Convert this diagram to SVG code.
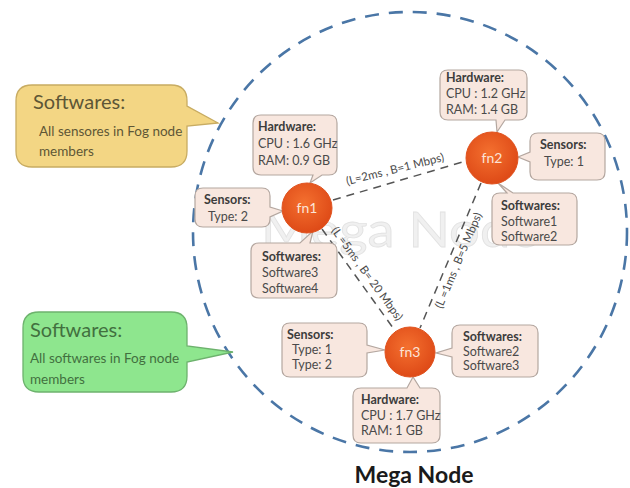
<svg xmlns="http://www.w3.org/2000/svg" width="630" height="488" viewBox="0 0 630 488">
<defs>
<radialGradient id="ng" cx="45%" cy="40%" r="60%">
<stop offset="0" stop-color="#F4702F"/>
<stop offset="1" stop-color="#DE4A17"/>
</radialGradient>
</defs>
<style>
text{font-family:Lato,"Open Sans","Liberation Sans",sans-serif}
.box{fill:#F8E7DF;stroke:#B4A7A0;stroke-width:1.2}
.bt{font-size:12.5px;fill:#4a4a4a}
.bh{font-size:12.5px;fill:#3c3c3c;font-weight:bold}
.node{fill:url(#ng);stroke:#E0521E;stroke-width:1}
.nt{font-size:14px;fill:#FCE3D6;text-anchor:middle}
.edge{stroke:#555;stroke-width:1.5;stroke-dasharray:8 6;fill:none}
.el{font-size:11.5px;fill:#4a4a4a;text-anchor:middle}
.mega{fill:none;stroke:#4A76A6;stroke-width:2.6;stroke-dasharray:14 10}
</style>
<rect width="630" height="488" fill="#fff"/>
<text x="400" y="247" font-size="48" fill="#F0F0F0" stroke="#E2E2E2" stroke-width="0.8" textLength="278" lengthAdjust="spacingAndGlyphs" text-anchor="middle">Mega Node</text>
<ellipse class="mega" cx="410" cy="232" rx="217" ry="220"/>
<g id="callout-sensors">
<path d="M32,85 H171 Q187,85 187,101 V106 L218,123 L187,126 V151 Q187,167 171,167 H32 Q16,167 16,151 V101 Q16,85 32,85 Z" fill="#F3D684" stroke="#C8AC62" stroke-width="1.3"/>
<text x="33" y="109" font-size="20" fill="#5E5636">Softwares:</text>
<text x="39" y="136" font-size="13.5" fill="#5E5636">All sensores in Fog node</text>
<text x="39" y="156" font-size="13.5" fill="#5E5636">members</text>
</g>
<g id="callout-softwares">
<path d="M39,312 H171 Q187,312 187,328 V346 L233,352 L187,362 V376 Q187,392 171,392 H39 Q23,392 23,376 V328 Q23,312 39,312 Z" fill="#8EE68E" stroke="#6DB26D" stroke-width="1.3"/>
<text x="30" y="337" font-size="20" fill="#42703F">Softwares:</text>
<text x="30" y="363" font-size="13.5" fill="#42703F">All softwares in Fog node</text>
<text x="30" y="384" font-size="13.5" fill="#42703F">members</text>
</g>
<g id="connectors">
<line class="edge" x1="333" y1="200" x2="466" y2="161"/>
<text class="el" transform="translate(396,173) rotate(-14)">(L=2ms , B=1 Mbps)</text>
<line class="edge" x1="322" y1="229" x2="396" y2="332"/>
<text class="el" transform="translate(364,276) rotate(54)">(L =5ms , B= 20 Mbps)</text>
<line class="edge" x1="481" y1="183" x2="420" y2="328"/>
<text class="el" transform="translate(462,262) rotate(-67)">(L =1ms , B=5 Mbps)</text>
</g>
<g id="fn1">
<path class="box" d="M261,115 H329 Q337,115 337,123 V167 Q337,175 329,175 H322 L310,183 L313,175 H261 Q253,175 253,167 V123 Q253,115 261,115 Z"/>
<text class="bh" x="258" y="131">Hardware:</text>
<text class="bt" x="258" y="148">CPU : 1.6 GHz</text>
<text class="bt" x="258" y="165">RAM: 0.9 GB</text>
<path class="box" d="M203,188 H262 Q270,188 270,196 V207 L283,211 L270,217 V219 Q270,227 262,227 H203 Q195,227 195,219 V196 Q195,188 203,188 Z"/>
<text class="bh" x="204" y="204">Sensors:</text>
<text class="bt" x="208" y="221">Type: 2</text>
<path class="box" d="M259,243 H300 L313,231 L310,243 H329 Q337,243 337,251 V290 Q337,298 329,298 H259 Q251,298 251,290 V251 Q251,243 259,243 Z"/>
<text class="bh" x="262" y="261">Softwares:</text>
<text class="bt" x="262" y="277">Software3</text>
<text class="bt" x="262" y="293">Software4</text>
<circle class="node" cx="307" cy="208" r="25"/>
<text class="nt" x="307" y="213">fn1</text>
</g>
<g id="fn2">
<path class="box" d="M448,70 H519 Q527,70 527,78 V112 Q527,120 519,120 H505 L497,132 L496,120 H448 Q440,120 440,112 V78 Q440,70 448,70 Z"/>
<text class="bh" x="446" y="82">Hardware:</text>
<text class="bt" x="446" y="98">CPU : 1.2 GHz</text>
<text class="bt" x="446" y="114">RAM: 1.4 GB</text>
<path class="box" d="M538,133 H597 Q605,133 605,141 V172 Q605,180 597,180 H538 Q530,180 530,172 V162 L518,157 L530,152 V141 Q530,133 538,133 Z"/>
<text class="bh" x="540" y="149">Sensors:</text>
<text class="bt" x="544" y="166">Type: 1</text>
<path class="box" d="M500,193 H507 L498,183 L513,193 H569 Q577,193 577,201 V237 Q577,245 569,245 H500 Q492,245 492,237 V201 Q492,193 500,193 Z"/>
<text class="bh" x="501" y="210">Softwares:</text>
<text class="bt" x="501" y="226">Software1</text>
<text class="bt" x="501" y="241">Software2</text>
<circle class="node" cx="492" cy="158" r="26"/>
<text class="nt" x="492" y="163">fn2</text>
</g>
<g id="fn3">
<path class="box" d="M290,323 H359 Q367,323 367,331 V345 L385,350 L367,353 V369 Q367,377 359,377 H290 Q282,377 282,369 V331 Q282,323 290,323 Z"/>
<text class="bh" x="287" y="339">Sensors:</text>
<text class="bt" x="292" y="354">Type: 1</text>
<text class="bt" x="292" y="369">Type: 2</text>
<path class="box" d="M460,325 H530 Q538,325 538,333 V369 Q538,377 530,377 H460 Q452,377 452,369 V357 L436,353 L452,348 V333 Q452,325 460,325 Z"/>
<text class="bh" x="463" y="341">Softwares:</text>
<text class="bt" x="463" y="356">Software2</text>
<text class="bt" x="463" y="370">Software3</text>
<path class="box" d="M361,388 H407 L413,377 L420,388 H432 Q440,388 440,396 V435 Q440,443 432,443 H361 Q353,443 353,435 V396 Q353,388 361,388 Z"/>
<text class="bh" x="361" y="404">Hardware:</text>
<text class="bt" x="361" y="420">CPU : 1.7 GHz</text>
<text class="bt" x="361" y="435">RAM: 1 GB</text>
<circle class="node" cx="410" cy="352" r="25"/>
<text class="nt" x="410" y="357">fn3</text>
</g>
<g id="title">
<text x="414" y="483" font-size="23" font-weight="bold" fill="#1a1a1a" text-anchor="middle">Mega Node</text>
</g>
</svg>
